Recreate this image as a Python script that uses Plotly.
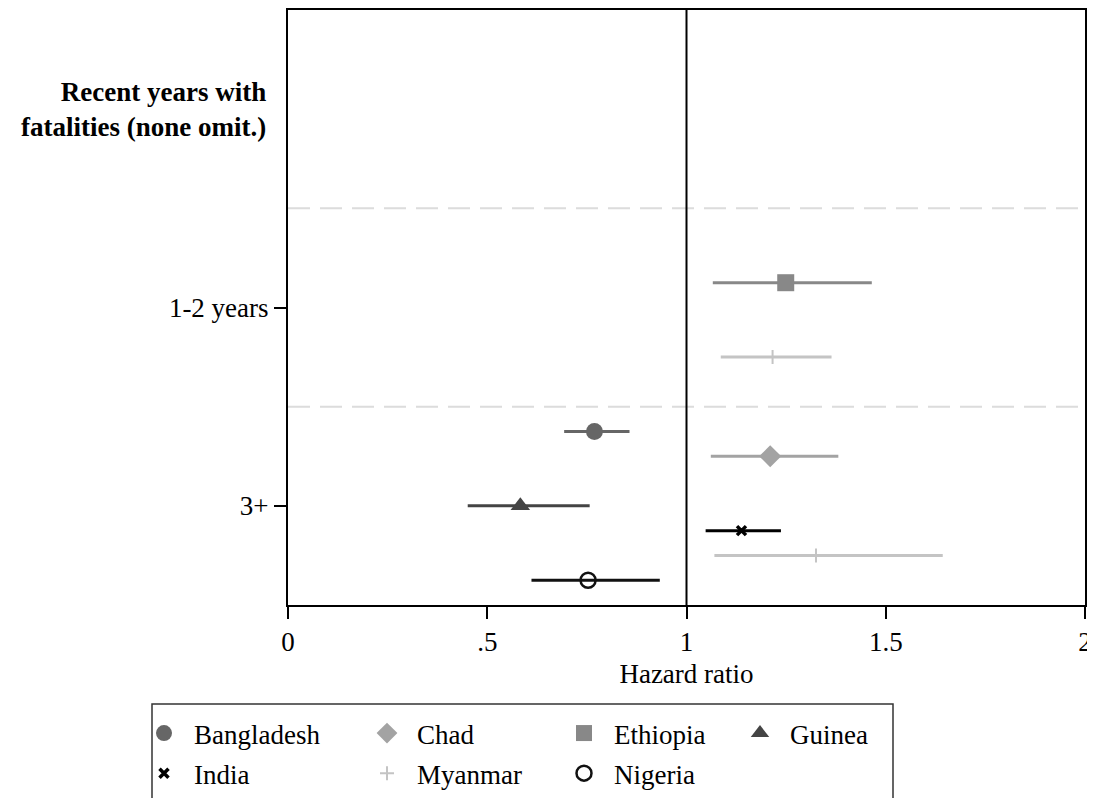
import plotly.graph_objects as go

# ---- data ----
categories = ["Recent years with<br>fatalities (none omit.)", "1-2 years", "3+"]
countries = ["Bangladesh", "Chad", "Ethiopia", "Guinea", "India", "Myanmar", "Nigeria"]

row_country = ["Ethiopia", "Myanmar", "Bangladesh", "Chad", "Guinea", "India", "Myanmar", "Nigeria"]
row_category = ["1-2 years", "1-2 years", "3+", "3+", "3+", "3+", "3+", "3+"]
hazard = [1.249, 1.216, 0.769, 1.210, 0.583, 1.138, 1.325, 0.753]
ci_low = [1.066, 1.086, 0.693, 1.061, 0.451, 1.048, 1.070, 0.611]
ci_high = [1.465, 1.364, 0.857, 1.381, 0.757, 1.237, 1.643, 0.933]

x_tickvals = [0, 0.5, 1, 1.5, 2]
x_ticktext = ["0", ".5", "1", "1.5", "2"]

# ---- styles ----
FONT = "Liberation Serif"
styles = {
    "Bangladesh": dict(symbol="circle", size=17, color="#666666", lw=0),
    "Chad": dict(symbol="diamond", size=17, color="#a3a3a3", lw=0),
    "Ethiopia": dict(symbol="square", size=17, color="#888888", lw=0),
    "Guinea": dict(symbol="triangle-up", size=17, color="#444444", lw=0),
    "India": dict(symbol="x-thin", size=9, color="#000000", lw=3.5),
    "Myanmar": dict(symbol="cross-thin", size=10, color="#c4c4c4", lw=2),
    "Nigeria": dict(symbol="circle-open", size=15, color="#111111", lw=2.5),
}
legend_of = {"Bangladesh": "legend", "India": "legend",
             "Chad": "legend2", "Myanmar": "legend2",
             "Ethiopia": "legend3", "Nigeria": "legend3",
             "Guinea": "legend4"}

cat_index = {c: i for i, c in enumerate(["header", "1-2 years", "3+"])}

fig = go.Figure()
for ci, c in enumerate(countries):
    idx = [i for i, rc in enumerate(row_country) if rc == c]
    xs = [hazard[i] for i in idx]
    ys = [cat_index[row_category[i]] + (ci - 3) * 0.125 for i in idx]
    plus = [ci_high[i] - hazard[i] for i in idx]
    minus = [hazard[i] - ci_low[i] for i in idx]
    s = styles[c]
    fig.add_trace(go.Scatter(
        x=xs, y=ys, mode="markers", name=c,
        legend=legend_of[c], legendgroup=c,
        marker=dict(symbol=s["symbol"], size=s["size"], color=s["color"],
                    line=dict(width=s["lw"], color=s["color"])),
        error_x=dict(type="data", symmetric=False, array=plus, arrayminus=minus,
                     width=0, thickness=3, color=s["color"]),
    ))

# reference lines
fig.add_shape(type="line", xref="x", yref="paper", x0=1, x1=1, y0=0, y1=1,
              line=dict(color="black", width=2))
for yv in [0.5, 1.5]:
    fig.add_shape(type="line", xref="paper", yref="y", x0=0, x1=1, y0=yv, y1=yv,
                  line=dict(color="#dcdcdc", width=2, dash="22px,10px"), layer="below")

# header annotation
fig.add_annotation(text="<b>" + categories[0] + "</b>", xref="paper", yref="y",
                   x=0, y=0, xanchor="right", yanchor="middle", xshift=-20,
                   align="right", showarrow=False,
                   font=dict(family=FONT, size=27, color="black"))

# legend frame (screen-pixel targets converted to paper coords)
W, H, L, T = 797, 595, 288, 10
def px_x(p):
    return (p - L) / W
def px_y(p):
    return (T + H - p) / H
fig.add_shape(type="rect", xref="paper", yref="paper",
              x0=px_x(152), x1=px_x(893), y0=px_y(704), y1=px_y(812),
              line=dict(color="#333333", width=1.5))

leg_common = dict(orientation="v", yanchor="top", xanchor="left",
                  bgcolor="rgba(0,0,0,0)", borderwidth=0, tracegroupgap=2,
                  itemwidth=50,
                  font=dict(family=FONT, size=27, color="black"))
fig.update_layout(
    legend=dict(x=px_x(134), y=px_y(709), **leg_common),
    legend2=dict(x=px_x(357), y=px_y(709), **leg_common),
    legend3=dict(x=px_x(554), y=px_y(709), **leg_common),
    legend4=dict(x=px_x(730), y=px_y(709), **leg_common),
)

fig.update_layout(
    width=1087, height=790,
    margin=dict(l=280, r=10, t=2, b=193, autoexpand=False),
    plot_bgcolor="white", paper_bgcolor="white",
    font=dict(family=FONT, size=27, color="black"),
    showlegend=True,
    xaxis=dict(range=[0, 2], tickvals=x_tickvals, ticktext=x_ticktext,
               ticks="outside", ticklen=12, tickwidth=2, tickcolor="black",
               ticklabeloverflow="allow",
               showline=True, linecolor="black", linewidth=2, mirror=True,
               showgrid=False, zeroline=False,
               title=dict(text="Hazard ratio", standoff=8,
                          font=dict(family=FONT, size=27))),
    yaxis=dict(range=[2.5, -0.5], tickvals=[1, 2], ticktext=categories[1:],
               ticks="outside", ticklen=12, tickwidth=2, tickcolor="black",
               showline=True, linecolor="black", linewidth=2, mirror=True,
               showgrid=False, zeroline=False),
)

fig.write_html("out.html")
